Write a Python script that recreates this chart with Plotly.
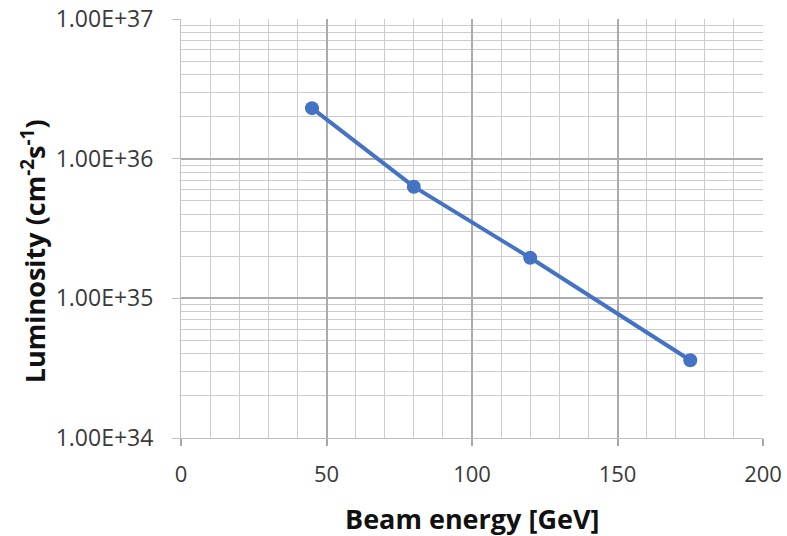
import plotly.graph_objects as go

beam_energy = [45, 80, 120, 175]
luminosity = [2.3e36, 6.3e35, 1.95e35, 3.6e34]
y_tickvals = [1e34, 1e35, 1e36, 1e37]
y_ticktext = ["1.00E+34", "1.00E+35", "1.00E+36", "1.00E+37"]
x_tickvals = [0, 50, 100, 150, 200]
x_title = "<b>Beam energy [GeV]</b>"
y_title = "<b>Luminosity (cm<sup>-2</sup>s<sup>-1</sup>)</b>"

fig = go.Figure()
fig.add_trace(go.Scatter(
    x=beam_energy, y=luminosity, mode="lines+markers",
    line=dict(color="#4472C4", width=4),
    marker=dict(color="#4472C4", size=14),
    showlegend=False,
))

font = "'Open Sans', sans-serif"
fig.update_layout(
    width=787, height=536,
    margin=dict(l=181, r=24, t=19, b=98),
    plot_bgcolor="white", paper_bgcolor="white",
    font=dict(family=font, color="#333333"),
)
fig.update_xaxes(
    range=[0, 200], tickvals=x_tickvals, automargin=False,
    showgrid=True, gridcolor="#ababab", gridwidth=1.5,
    minor=dict(dtick=10, showgrid=True, gridcolor="#cccccc", gridwidth=1),
    ticks="outside", ticklen=7, tickcolor="#a6a6a6", tickwidth=1.5,
    showline=True, linecolor="#bfbfbf",
    zeroline=False, ticklabelstandoff=10,
    tickfont=dict(size=22, color="#3a3a3a"),
)
fig.update_yaxes(
    type="log", range=[34, 37], tickvals=y_tickvals, ticktext=y_ticktext,
    automargin=False,
    showgrid=True, gridcolor="#ababab", gridwidth=1.5,
    minor=dict(dtick="D1", showgrid=True, gridcolor="#cccccc", gridwidth=1),
    ticks="outside", ticklen=8, tickcolor="#bfbfbf",
    showline=True, linecolor="#bfbfbf", ticklabelstandoff=14,
    tickfont=dict(size=23, color="#3a3a3a"),
)
fig.add_annotation(
    text=x_title, xref="paper", yref="paper", x=0.5, y=-0.191,
    xanchor="center", yanchor="middle", showarrow=False,
    font=dict(size=27, color="#111111"),
)
fig.add_annotation(
    text=y_title, xref="paper", yref="paper", x=-0.254, y=0.446,
    xanchor="center", yanchor="middle", showarrow=False, textangle=-90,
    font=dict(size=27, color="#111111"),
)
fig.write_html("out.html", config={"displayModeBar": False},
               post_script="document.body.style.margin='0';")
